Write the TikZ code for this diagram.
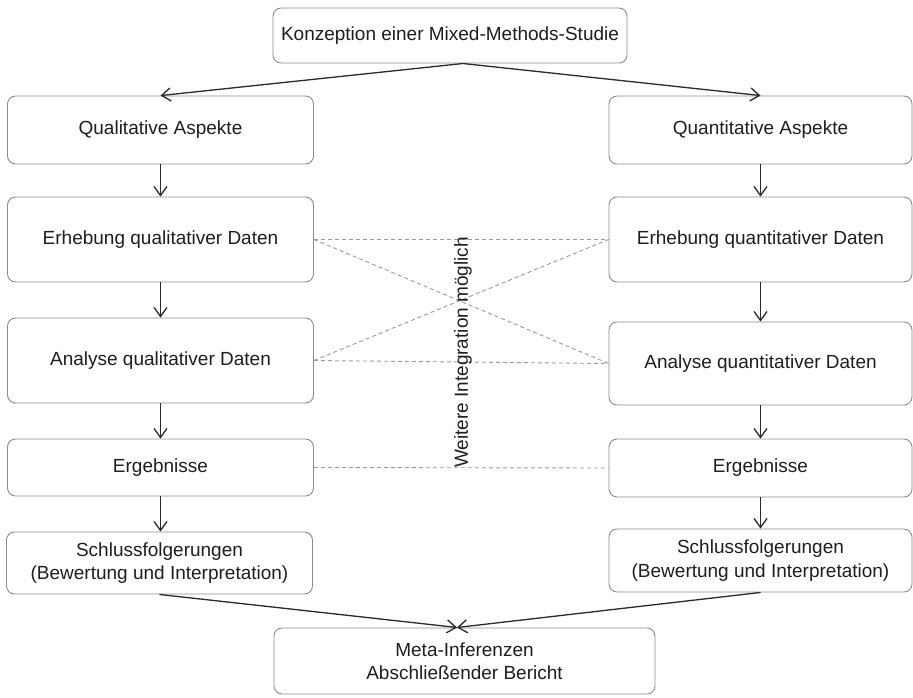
\documentclass[tikz,border=0pt]{standalone}
\usepackage{fontspec}
\setmainfont{Liberation Sans}
\usetikzlibrary{arrows.meta}
\definecolor{boxline}{HTML}{8C8C8C}
\definecolor{txt}{HTML}{1E1E1E}
\definecolor{arr}{HTML}{2A2A2A}
\definecolor{dashc}{HTML}{9A9A9A}
\begin{document}
\begin{tikzpicture}[x=1pt,y=-1pt,
  box/.style={draw=boxline,line width=0.9pt,rounded corners=8pt,fill=white,
    text=txt,align=center,inner sep=0pt,font=\fontsize{19}{23.5}\selectfont},
  flow/.style={arr,line width=1.3pt,-{Straight Barb[length=9pt,width=13pt,line width=1.3pt]}},
  integ/.style={dashc,line width=0.9pt,dash pattern=on 4pt off 3pt}]
\useasboundingbox (0,0) rectangle (913,697);
\fill[white] (0,0) rectangle (913,697);
\node[box,minimum width=354pt,minimum height=55pt] (top) at (450,35.5) {Konzeption einer Mixed-Methods-Studie};
\node[box,minimum width=306pt,minimum height=68pt] (LQ) at (160.5,130) {Qualitative Aspekte};
\node[box,minimum width=306pt,minimum height=85pt] (LE) at (160.5,239.5) {Erhebung qualitativer Daten};
\node[box,minimum width=306pt,minimum height=85pt] (LA) at (160.5,360.5) {Analyse qualitativer Daten};
\node[box,minimum width=306pt,minimum height=57pt] (LR) at (160.5,467.5) {Ergebnisse};
\node[box,minimum width=306pt,minimum height=62pt] (LS) at (159.5,563) {Schlussfolgerungen\\(Bewertung und Interpretation)};
\node[box,minimum width=303pt,minimum height=68pt] (RQ) at (760.5,130) {Quantitative Aspekte};
\node[box,minimum width=303pt,minimum height=85pt] (RE) at (760.5,239.5) {Erhebung quantitativer Daten};
\node[box,minimum width=303pt,minimum height=83pt] (RA) at (760.5,363.5) {Analyse quantitativer Daten};
\node[box,minimum width=303pt,minimum height=58pt] (RR) at (760.5,468) {Ergebnisse};
\node[box,minimum width=303pt,minimum height=63pt] (RS) at (760.5,560.5) {Schlussfolgerungen\\(Bewertung und Interpretation)};
\node[box,minimum width=381pt,minimum height=66pt] (meta) at (464.5,661) {Meta-Inferenzen\\Abschließender Bericht};
% integration lines
\draw[integ] (LE.east) -- (RE.west);
\draw[integ] (LE.east) -- (RA.west);
\draw[integ] (LA.east) -- (RE.west);
\draw[integ] (LA.east) -- (RA.west);
\draw[integ] (LR.east) -- (RR.west);
\node[rotate=90,text=txt,font=\fontsize{19}{23}\selectfont,inner sep=0pt] (lbl) at (463,352.5) {Weitere Integration möglich};
% flow
\coordinate (topout) at (463,63.5);
\draw[flow] (topout) -- (LQ.north);
\draw[flow] (topout) -- (RQ.north);
\draw[flow] (LQ) -- (LE);
\draw[flow] (LE) -- (LA);
\draw[flow] (LA) -- (LR);
\draw[flow] (LR.south) -- (LR.south |- LS.north);
\draw[flow] (RQ) -- (RE);
\draw[flow] (RE) -- (RA);
\draw[flow] (RA) -- (RR);
\draw[flow] (RR) -- (RS);
\coordinate (metain) at (457,627.5);
\draw[flow] (LS.south) -- (metain);
\draw[flow] (RS.south) -- (metain);
\end{tikzpicture}
\end{document}
